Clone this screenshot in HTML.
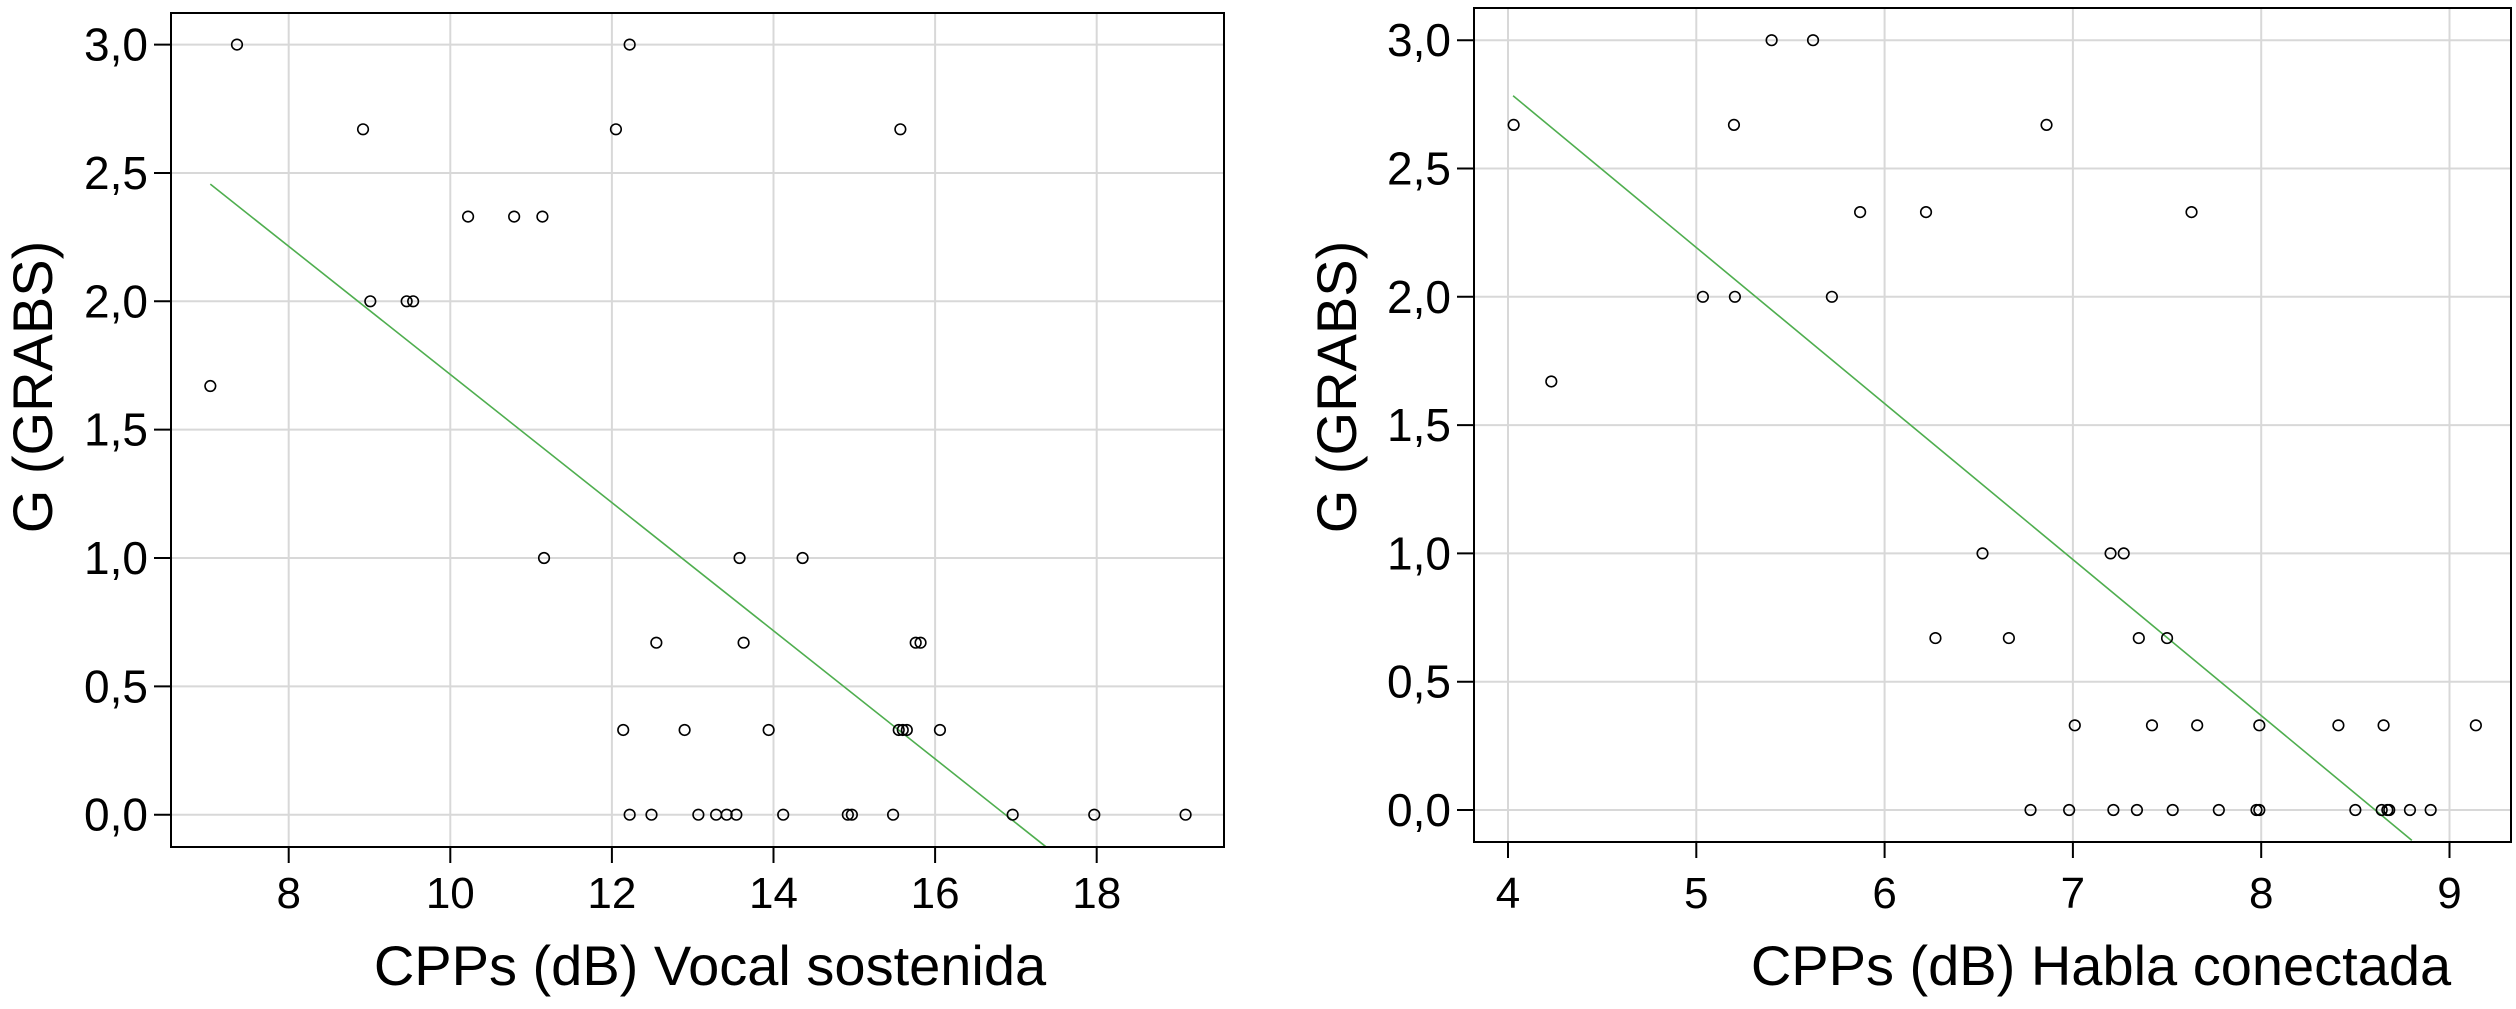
<!DOCTYPE html>
<html><head><meta charset="utf-8"><style>
html,body{margin:0;padding:0;background:#fff;}
svg{display:block;font-family:"Liberation Sans",Arial,sans-serif;}
</style></head><body>
<svg id="chart" width="2516" height="1009" viewBox="0 0 2516 1009" xmlns="http://www.w3.org/2000/svg"></svg>
<script>
// Left panel data: CPPs vocal sostenida vs G
const leftX = [7.03,7.36,8.92,9.01,9.46,9.54,10.22,10.79,11.14,11.16,12.05,12.22,15.57,13.58,14.36,12.55,13.63,15.76,15.82,12.14,12.90,13.94,15.55,15.60,15.65,16.06,12.22,12.49,13.07,13.29,13.42,13.54,14.12,14.92,14.97,15.48,16.96,17.97,19.10];
const leftY = [1.67,3.0,2.67,2.0,2.0,2.0,2.33,2.33,2.33,1.0,2.67,3.0,2.67,1.0,1.0,0.67,0.67,0.67,0.67,0.33,0.33,0.33,0.33,0.33,0.33,0.33,0,0,0,0,0,0,0,0,0,0,0,0,0];
const leftFit = [4.211,-0.2496];
const leftFitRange = [7.03,17.38];
const leftXTicks = [8,10,12,14,16,18];
const leftXTickLabels = ["8","10","12","14","16","18"];
// Right panel data: CPPs habla conectada vs G
const rightX = [4.03,4.23,5.035,5.205,5.20,5.40,5.62,5.72,5.87,6.22,6.86,7.63,6.52,7.20,7.27,6.27,6.66,7.35,7.50,7.01,7.42,7.66,7.99,8.41,8.65,9.14,6.775,6.98,7.215,7.34,7.53,7.775,7.975,7.99,8.50,8.64,8.67,8.68,8.79,8.90];
const rightY = [2.67,1.67,2.0,2.0,2.67,3.0,3.0,2.0,2.33,2.33,2.67,2.33,1.0,1.0,1.0,0.67,0.67,0.67,0.67,0.33,0.33,0.33,0.33,0.33,0.33,0.33,0,0,0,0,0,0,0,0,0,0,0,0,0,0];
const rightFit = [5.232,-0.608];
const rightFitRange = [4.027,8.80];
const rightXTicks = [4,5,6,7,8,9];
const rightXTickLabels = ["4","5","6","7","8","9"];
const yTicks = [0,0.5,1.0,1.5,2.0,2.5,3.0];
const yTickLabels = ["0,0","0,5","1,0","1,5","2,0","2,5","3,0"];

const NS="http://www.w3.org/2000/svg";
const svg=document.getElementById('chart');
function mk(tag,attrs,parent){const e=document.createElementNS(NS,tag);for(const k in attrs)e.setAttribute(k,attrs[k]);(parent||svg).appendChild(e);return e;}

function panel(cfg){
  const g=mk('g',{});
  
  
  const xs=v=>cfg.x0+(v-cfg.xv0)*cfg.xk;
  const ys=v=>cfg.y0-v*cfg.yk;
  // grid
  cfg.xTicks.forEach(t=>{const l=mk('line',{x1:xs(t),x2:xs(t),y1:cfg.top,y2:cfg.bottom,stroke:'#d8d8d8','stroke-width':2},g);
    });
  yTicks.forEach(t=>{const l=mk('line',{x1:cfg.left,x2:cfg.right,y1:ys(t),y2:ys(t),stroke:'#d8d8d8','stroke-width':2},g);
    });
  // fit line
  const fl=mk('line',{x1:xs(cfg.fitRange[0]),y1:ys(cfg.fit[0]+cfg.fit[1]*cfg.fitRange[0]),x2:xs(cfg.fitRange[1]),y2:ys(cfg.fit[0]+cfg.fit[1]*cfg.fitRange[1]),stroke:'#4fae4f','stroke-width':1.6},g);
  
  // points
  cfg.xs.forEach((v,i)=>{const c=mk('circle',{cx:xs(v),cy:ys(cfg.ys[i]),r:5.3,fill:'none',stroke:'#000','stroke-width':1.6},g);
    });
  // frame
  const fr=mk('rect',{x:cfg.left,y:cfg.top,width:cfg.right-cfg.left,height:cfg.bottom-cfg.top,fill:'none',stroke:'#000','stroke-width':2},g);
  
  // y ticks
  yTicks.forEach((t,i)=>{mk('line',{x1:cfg.left-17,x2:cfg.left,y1:ys(t),y2:ys(t),stroke:'#000','stroke-width':2},g);
    const tx=mk('text',{x:cfg.left-23,y:ys(t)+16,'font-size':46,'text-anchor':'end',fill:'#000'},g);
    tx.textContent=yTickLabels[i];
    });
  // x ticks
  cfg.xTicks.forEach((t,i)=>{mk('line',{x1:xs(t),x2:xs(t),y1:cfg.bottom,y2:cfg.bottom+16,stroke:'#000','stroke-width':2},g);
    const tx=mk('text',{x:xs(t),y:908,'font-size':44,'text-anchor':'middle',fill:'#000'},g);
    tx.textContent=cfg.xLabels[i];
    });
  const xt=mk('text',{x:cfg.xTitleX,y:985,'font-size':56,'text-anchor':'middle',fill:'#000'},g);
  xt.textContent=cfg.xTitle;
  
  const yt=mk('text',{x:0,y:0,'font-size':56,'text-anchor':'middle',fill:'#000',transform:`translate(${cfg.yTitleX},387) rotate(-90)`},g);
  yt.textContent='G (GRABS)';
  
}
panel({name:'left-panel',left:171,right:1224,top:13,bottom:847,x0:288.7,xv0:8,xk:80.8,y0:814.7,yk:256.7,
  xTicks:leftXTicks,xLabels:leftXTickLabels,xs:leftX,ys:leftY,fit:leftFit,fitRange:leftFitRange,
  xTitle:'CPPs (dB) Vocal sostenida',xTitleX:710,yTitleX:52});
panel({name:'right-panel',left:1474,right:2511,top:8,bottom:842,x0:1508,xv0:4,xk:188.3,y0:810,yk:256.6,
  xTicks:rightXTicks,xLabels:rightXTickLabels,xs:rightX,ys:rightY,fit:rightFit,fitRange:rightFitRange,
  xTitle:'CPPs (dB) Habla conectada',xTitleX:2101,yTitleX:1356});
</script>
</body></html>
